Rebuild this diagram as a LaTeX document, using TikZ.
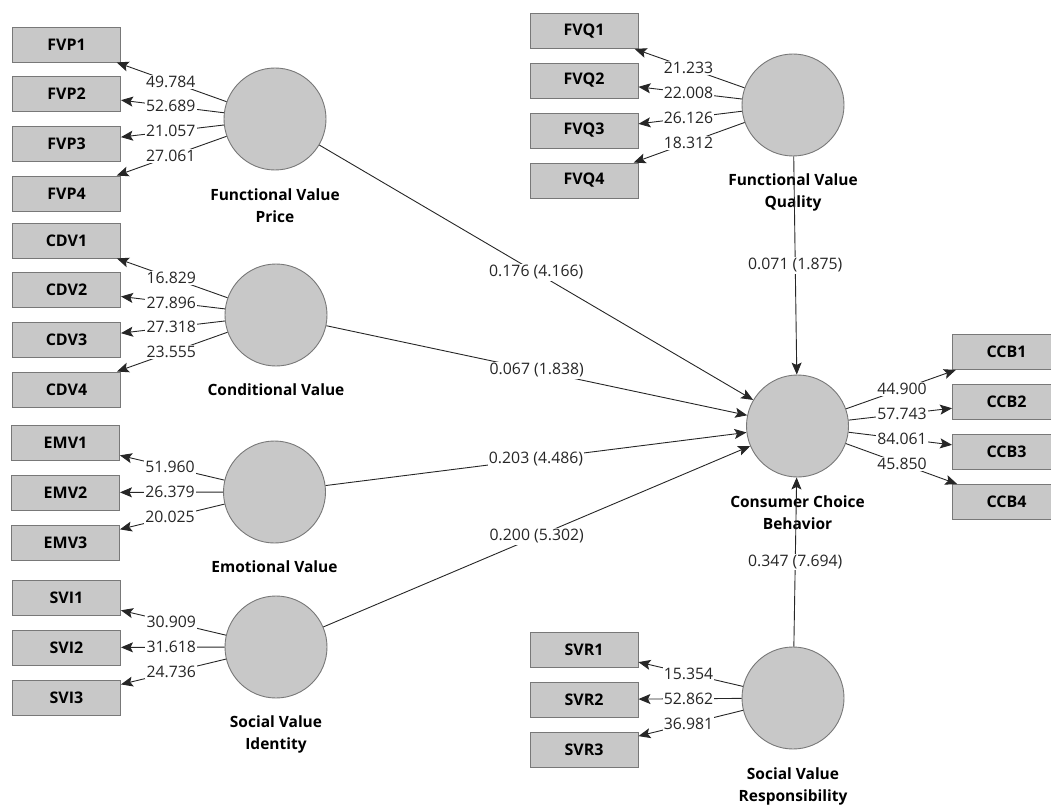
\documentclass[tikz,border=0pt]{standalone}
\usepackage{fontspec}
\setmainfont{Open Sans}
\usetikzlibrary{arrows.meta}
\definecolor{lvfill}{RGB}{200,200,200}
\definecolor{lvdraw}{RGB}{120,120,120}
\tikzset{
  ind/.style={rectangle, draw=lvdraw, fill=lvfill, line width=0.9pt, minimum width=108pt, minimum height=35pt, inner sep=0pt, font=\fontsize{16}{18}\selectfont\bfseries},
  lv/.style={circle, draw=lvdraw, fill=lvfill, line width=0.9pt, minimum size=102pt, inner sep=0pt},
  lvlab/.style={align=center, font=\fontsize{15.5}{22}\selectfont\bfseries, inner sep=0pt},
  num/.style={fill=white, inner sep=1.2pt, font=\fontsize{15.8}{17}\selectfont, text=black!85},
  arr/.style={draw=black!85, line width=0.9pt, -{Stealth[length=12pt,width=10pt,inset=2.5pt]}},
}
\begin{document}
\begin{tikzpicture}[x=1pt,y=-1pt]
\useasboundingbox (0,0) rectangle (1051,805);
% latent variables
\node[lv] (fvp) at (275,119) {};
\node[lv] (cdv) at (276,315) {};
\node[lv] (emv) at (274.5,492) {};
\node[lv] (svi) at (276,647) {};
\node[lv] (fvq) at (793,105) {};
\node[lv] (ccb) at (797.5,426) {};
\node[lv] (svr) at (793,698) {};
% indicators
\node[ind] (fvp1) at (66.5,44.5) {FVP1};
\node[ind] (fvp2) at (66.5,93.5) {FVP2};
\node[ind] (fvp3) at (66.5,143.5) {FVP3};
\node[ind] (fvp4) at (66.5,193.5) {FVP4};
\node[ind] (cdv1) at (66.5,240.5) {CDV1};
\node[ind] (cdv2) at (66.5,290) {CDV2};
\node[ind] (cdv3) at (66.5,339.5) {CDV3};
\node[ind] (cdv4) at (66.5,389.5) {CDV4};
\node[ind] (emv1) at (65.5,442.5) {EMV1};
\node[ind] (emv2) at (65.5,492.5) {EMV2};
\node[ind] (emv3) at (65.5,542.5) {EMV3};
\node[ind] (svi1) at (66.5,597.5) {SVI1};
\node[ind] (svi2) at (66.5,647.5) {SVI2};
\node[ind] (svi3) at (66.5,697.5) {SVI3};
\node[ind] (fvq1) at (584,31) {FVQ1};
\node[ind] (fvq2) at (584,80.5) {FVQ2};
\node[ind] (fvq3) at (584,130.5) {FVQ3};
\node[ind] (fvq4) at (584,180.5) {FVQ4};
\node[ind] (ccb1) at (1006.5,352) {CCB1};
\node[ind] (ccb2) at (1006.5,402) {CCB2};
\node[ind] (ccb3) at (1006.5,451.5) {CCB3};
\node[ind] (ccb4) at (1006.5,502) {CCB4};
\node[ind] (svr1) at (584,649.5) {SVR1};
\node[ind] (svr2) at (584,699.5) {SVR2};
\node[ind] (svr3) at (584,749.5) {SVR3};
% labels of latent variables
\node[lvlab] (fvpl) at (275,205.5) {Functional Value\\Price};
\node[lvlab] (cdvl) at (276,390) {Conditional Value};
\node[lvlab] (emvl) at (274.5,567) {Emotional Value};
\node[lvlab] (svil) at (276,734) {Social Value\\Identity};
\node[lvlab] (fvql) at (793,192.5) {Functional Value\\Quality};
\node[lvlab] (ccbl) at (797.5,512.5) {Consumer Choice\\Behavior};
\node[lvlab] (svrl) at (793,786) {Social Value\\Responsibility};
% loadings
\foreach \l/\i/\v in {fvp/fvp1/49.784, fvp/fvp2/52.689, fvp/fvp3/21.057, fvp/fvp4/27.061,
  cdv/cdv1/16.829, cdv/cdv2/27.896, cdv/cdv3/27.318, cdv/cdv4/23.555,
  emv/emv1/51.960, emv/emv2/26.379, emv/emv3/20.025,
  svi/svi1/30.909, svi/svi2/31.618, svi/svi3/24.736,
  fvq/fvq1/21.233, fvq/fvq2/22.008, fvq/fvq3/26.126, fvq/fvq4/18.312,
  ccb/ccb1/44.900, ccb/ccb2/57.743, ccb/ccb3/84.061, ccb/ccb4/45.850,
  svr/svr1/15.354, svr/svr2/52.862, svr/svr3/36.981}{
  \draw[arr] (\l) -- (\i);
  \path (\l.center) -- (\i.center) node[midway, num] {\v};
}
% structural paths
\draw[arr] (fvp) -- (ccb) node[midway, num] {0.176 (4.166)};
\draw[arr] (cdv) -- (ccb) node[midway, num] {0.067 (1.838)};
\draw[arr] (emv) -- (ccb) node[midway, num] {0.203 (4.486)};
\draw[arr] (svi) -- (ccb) node[midway, num] {0.200 (5.302)};
\draw[arr] (fvq) -- (ccb) node[midway, num] {0.071 (1.875)};
\draw[arr] (svr) -- (ccb) node[midway, num] {0.347 (7.694)};
\end{tikzpicture}
\end{document}
